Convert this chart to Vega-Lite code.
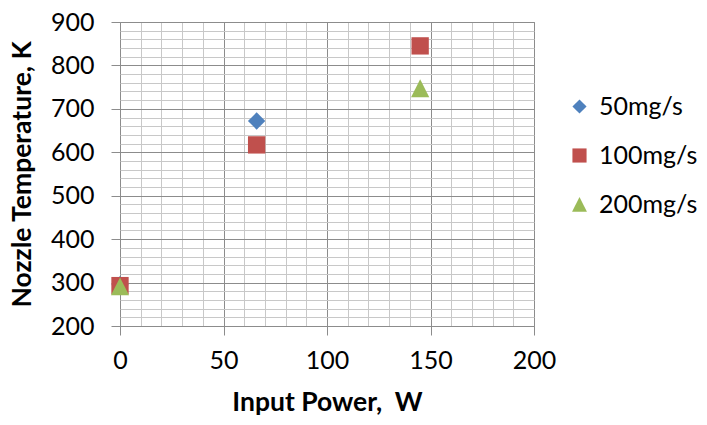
{
  "$schema": "https://vega.github.io/schema/vega-lite/v6.json",
  "width": 414,
  "height": 304,
  "autosize": {"type": "none"},
  "padding": {"left": 120, "top": 22, "right": 173, "bottom": 99},
  "background": "white",
  "config": {
    "font": "Lato",
    "view": {"stroke": "#8c8c8c", "strokeWidth": 1},
    "axis": {"labelFont": "Lato", "titleFont": "Lato", "labelFontSize": 25, "titleFontSize": 26.5, "labelColor": "#000", "titleColor": "#000", "titleFontWeight": "bold", "domain": false, "tickColor": "#8c8c8c", "labelFontWeight": "normal", "labelFlush": false},
    "legend": {"labelFont": "Lato", "labelFontSize": 25, "labelColor": "#000", "labelLimit": 300}
  },
  "data": {"values": [
    {"power": 0, "temp": 295, "flow": "50mg/s"},
    {"power": 66, "temp": 672, "flow": "50mg/s"},
    {"power": 0, "temp": 293, "flow": "100mg/s"},
    {"power": 66, "temp": 617, "flow": "100mg/s"},
    {"power": 145, "temp": 845, "flow": "100mg/s"},
    {"power": 0, "temp": 291, "flow": "200mg/s"},
    {"power": 145, "temp": 747, "flow": "200mg/s"}
  ]},
  "resolve": {"axis": {"x": "independent", "y": "independent"}},
  "layer": [
    {
      "mark": {"type": "point", "opacity": 0},
      "encoding": {
        "x": {"field": "power", "type": "quantitative", "scale": {"domain": [0, 200], "nice": false, "zero": false},
              "axis": {"orient": "bottom", "values": [10,20,30,40,60,70,80,90,110,120,130,140,160,170,180,190], "labels": false, "ticks": false, "title": null, "grid": true, "gridColor": "#c8c8c8", "gridWidth": 1, "gridOpacity": 1}},
        "y": {"field": "temp", "type": "quantitative", "scale": {"domain": [200, 900], "nice": false, "zero": false},
              "axis": {"orient": "left", "values": [220,240,260,280,320,340,360,380,420,440,460,480,520,540,560,580,620,640,660,680,720,740,760,780,820,840,860,880], "labels": false, "ticks": false, "title": null, "grid": true, "gridColor": "#c8c8c8", "gridWidth": 1, "gridOpacity": 1}}
      }
    },
    {
      "mark": {"type": "point", "filled": true, "opacity": 1, "size": 300},
      "encoding": {
        "x": {"field": "power", "type": "quantitative", "scale": {"domain": [0, 200], "nice": false, "zero": false},
              "axis": {"orient": "bottom", "values": [0, 50, 100, 150, 200], "title": "Input Power,\u00a0 W", "grid": true, "gridColor": "#8c8c8c", "gridOpacity": 1, "tickSize": 9, "labelPadding": 13, "titlePadding": 16}},
        "y": {"field": "temp", "type": "quantitative", "scale": {"domain": [200, 900], "nice": false, "zero": false},
              "axis": {"orient": "left", "values": [200,300,400,500,600,700,800,900], "title": "Nozzle Temperature, K", "grid": true, "gridColor": "#8c8c8c", "gridOpacity": 1, "tickSize": 9, "labelPadding": 17, "titlePadding": 14}},
        "color": {"field": "flow", "type": "nominal", "scale": {"domain": ["50mg/s", "100mg/s", "200mg/s"], "range": ["#4F81BD", "#C0504D", "#9BBB59"]},
                  "legend": {"title": null, "orient": "none", "legendX": 447, "legendY": 72, "symbolSize": 200, "rowPadding": 23, "labelOffset": 7, "offset": 0, "padding": 0}},
        "shape": {"field": "flow", "type": "nominal", "scale": {"domain": ["50mg/s", "100mg/s", "200mg/s"], "range": ["diamond", "square", "M0,-1.05L1.05,1.02L-1.05,1.02Z"]}}
      }
    }
  ]
}
